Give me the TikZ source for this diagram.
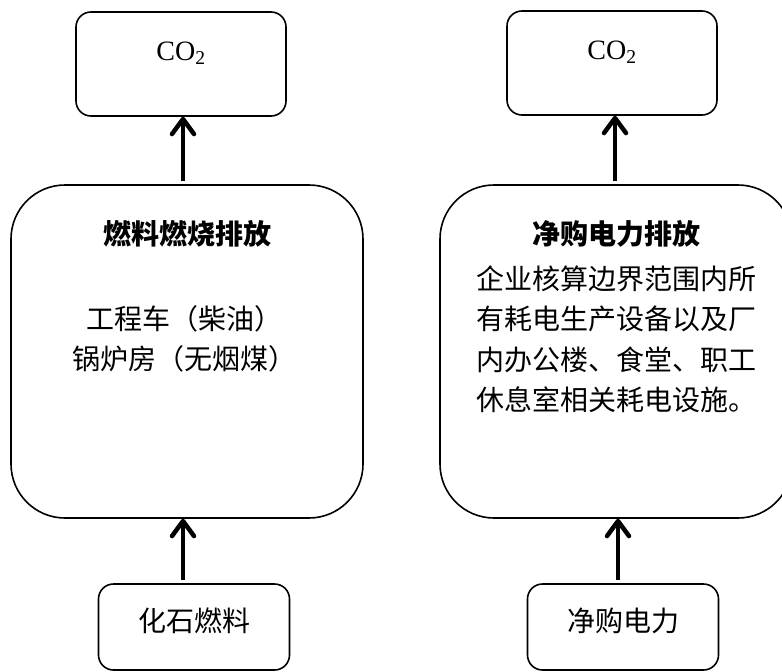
\documentclass[tikz,border=0pt]{standalone}
\usepackage{fontspec}
\setmainfont{Liberation Serif}
\newfontfamily\cjk{Noto Sans CJK SC}
\usetikzlibrary{arrows.meta}
\tikzset{
  box/.style={draw, line width=1.6pt, rounded corners=15pt, inner sep=0pt},
  bigbox/.style={box, rounded corners=54pt, minimum width=352pt, minimum height=333pt},
  co2box/.style={box, minimum width=210pt, minimum height=104pt},
  srcbox/.style={box, minimum width=191pt, minimum height=86pt},
  arr/.style={line width=4.5pt, shorten <=3pt, -{Straight Barb[length=15pt,width=22pt,line cap=round,line join=round]}},
  cn/.style={font=\cjk\fontsize{28}{34}\selectfont, inner sep=0pt, anchor=base},
  cnb/.style={font=\cjk\bfseries\fontsize{28}{34}\selectfont, inner sep=0pt, anchor=base},
  co2txt/.style={font=\fontsize{28}{34}\selectfont, inner sep=0pt, anchor=base}
}
\begin{document}
\begin{tikzpicture}[x=1pt, y=-1pt]
\useasboundingbox (0,0) rectangle (782,672);
% boxes
\node[co2box] (co2L) at (181,64) {};
\node[co2box] (co2R) at (612,63) {};
\node[bigbox] (bigL) at (187,351.5) {};
\node[bigbox] (bigR) at (616,351.5) {};
\node[srcbox] (fosL) at (194,627) {};
\node[srcbox] (eleR) at (623,627) {};
% texts
\node[co2txt] (tco2L) at (181,60) {CO\textsubscript{2}};
\node[co2txt] (tco2R) at (612,59) {CO\textsubscript{2}};
\node[cnb] (titL) at (187,244) {燃料燃烧排放};
\node[cn] (l1L) at (184,329) {工程车（柴油）};
\node[cn] (l2L) at (184,369) {锅炉房（无烟煤）};
\node[cnb] (titR) at (616,244) {净购电力排放};
\node[cn] (r1) at (616,289) {企业核算边界范围内所};
\node[cn] (r2) at (616,329.5) {有耗电生产设备以及厂};
\node[cn] (r3) at (616,370) {内办公楼、食堂、职工};
\node[cn] (r4) at (616,410.5) {休息室相关耗电设施。};
\node[cn] (tfos) at (194,631) {化石燃料};
\node[cn] (tele) at (623,631) {净购电力};
% arrows
\coordinate (axL) at (183,0);
\coordinate (axR) at (615,0);
\coordinate (bxL) at (183,0);
\coordinate (bxR) at (618,0);
\draw[arr] (axL |- bigL.north) -- (axL |- co2L.south);
\draw[arr] (axR |- bigR.north) -- (axR |- co2R.south);
\draw[arr] (bxL |- fosL.north) -- (bxL |- bigL.south);
\draw[arr] (bxR |- eleR.north) -- (bxR |- bigR.south);
\end{tikzpicture}
\end{document}
